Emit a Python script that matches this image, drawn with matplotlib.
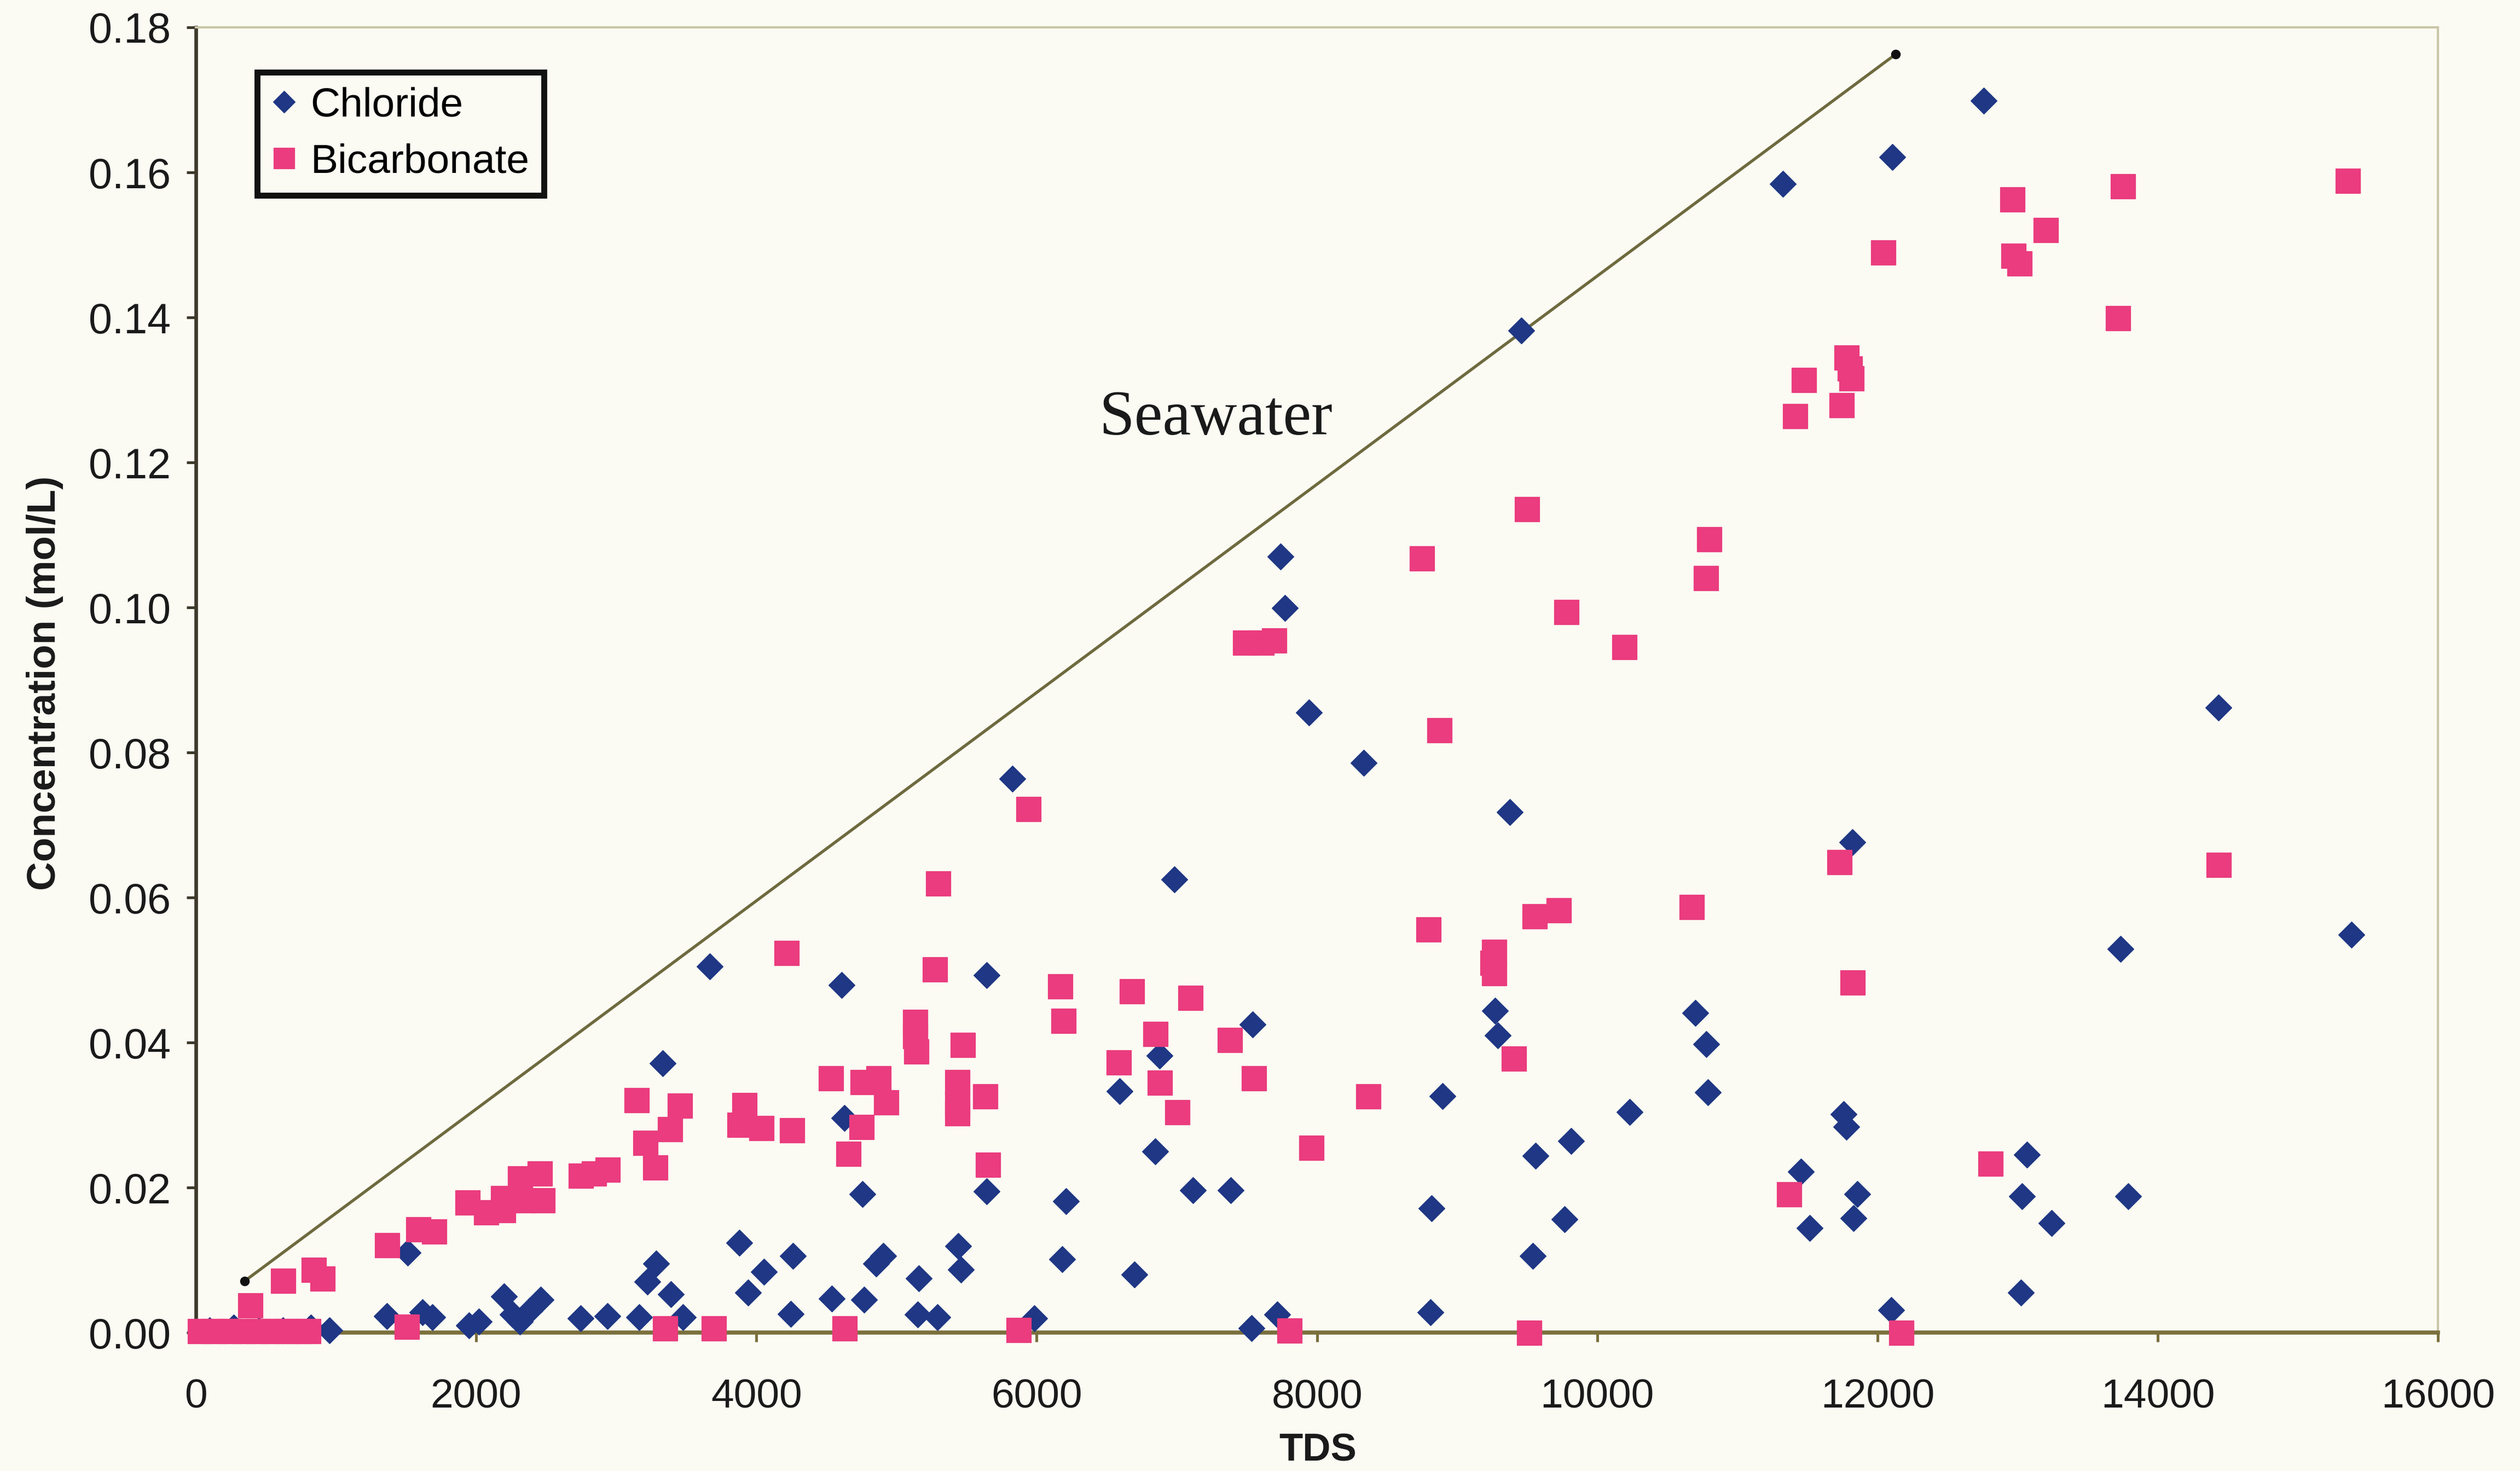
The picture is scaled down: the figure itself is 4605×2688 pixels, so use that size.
import matplotlib
matplotlib.use("Agg")
import matplotlib.pyplot as plt
from matplotlib.ticker import MultipleLocator, FormatStrFormatter

# --- data -----------------------------------------------------------------
chloride_tds = [
    12759, 12105, 11324, 9457, 7739, 7773, 7945, 8335, 5825, 9378,
    14432, 15383, 13733, 11819, 6982, 3669, 4610, 5642, 9272, 9290,
    10700, 10778, 10790, 7542, 6879, 6592, 8897, 10230, 11759, 11776,
    3330, 4628, 6845, 9559, 9812, 13066, 11455, 5642, 6208, 7114,
    7385, 8818, 11854, 13031, 13790, 4758, 13240, 11515, 11829, 9768,
    9541, 3877, 4261, 4052, 3939, 4905, 4854, 5159, 5442, 5459,
    6182, 6696, 3286, 3224, 3390, 3477, 1513, 1362, 1617, 1687,
    1949, 2018, 2201, 2261, 2314, 2384, 2462, 2745, 2938, 3164,
    4244, 4540, 4767, 5150, 5290, 5982, 7532, 7715, 8810, 12099,
    13022, 955, 270, 820, 100, 450, 620,
]
chloride_conc = [
    0.1699, 0.1621, 0.1584, 0.1382, 0.1070, 0.0999, 0.0855, 0.0786, 0.0764, 0.0718,
    0.0862, 0.0549, 0.0529, 0.0676, 0.0625, 0.0505, 0.0479, 0.0493, 0.0444, 0.0410,
    0.0441, 0.0398, 0.0331, 0.0425, 0.0382, 0.0333, 0.0326, 0.0304, 0.0301, 0.0284,
    0.0371, 0.0296, 0.0250, 0.0244, 0.0264, 0.0245, 0.0222, 0.0195, 0.0181, 0.0196,
    0.0196, 0.0171, 0.0191, 0.0188, 0.0188, 0.0191, 0.0151, 0.0144, 0.0158, 0.0156,
    0.0106, 0.0124, 0.0106, 0.0084, 0.0055, 0.0106, 0.0095, 0.0075, 0.0119, 0.0087,
    0.0101, 0.0080, 0.0095, 0.0070, 0.0053, 0.0021, 0.0110, 0.0023, 0.0028, 0.0021,
    0.0010, 0.0015, 0.0050, 0.0025, 0.0015, 0.0030, 0.0045, 0.0020, 0.0023, 0.0021,
    0.0026, 0.0047, 0.0045, 0.0025, 0.0021, 0.0020, 0.0006, 0.0025, 0.0028, 0.0031,
    0.0055, 0.0003, 0.0007, 0.0007, 0.0003, 0.0003, 0.0003,
]

bicarbonate_tds = [
    15356, 13748, 12961, 13197, 12038, 12970, 13010, 13713, 11776, 11800,
    11811, 11472, 11742, 11411, 9496, 10799, 10776, 8747, 9779, 10191,
    7487, 7602, 7694, 8873, 5939, 5297, 11727, 14432, 10673, 9722,
    9550, 8793, 9263, 9252, 9263, 11820, 4215, 5271, 6165, 6679,
    7097, 6191, 6845, 7376, 5471, 5133, 5133, 5141, 6584, 9403,
    4531, 4758, 4871, 4923, 5433, 5433, 5433, 5633, 6879, 7549,
    8365, 7001, 4749, 4654, 3146, 3451, 3381, 3207, 3277, 2314,
    2453, 2745, 2840, 2938, 3913, 3877, 4034, 4252, 5650, 7959,
    12804, 11367, 1939, 2070, 2191, 2191, 2331, 2471, 1364, 1586,
    1700, 623, 841, 903, 389, 30, 130, 240, 340, 440,
    540, 640, 730, 800, 1504, 3347, 3695, 4627, 5868, 7803,
    9514, 12168,
]
bicarbonate_conc = [
    0.1589, 0.1581, 0.1563, 0.1521, 0.1490, 0.1485, 0.1475, 0.1399, 0.1345, 0.1330,
    0.1316, 0.1314, 0.1279, 0.1264, 0.1136, 0.1094, 0.1041, 0.1068, 0.0994, 0.0946,
    0.0952, 0.0952, 0.0955, 0.0831, 0.0722, 0.0620, 0.0649, 0.0645, 0.0587, 0.0583,
    0.0574, 0.0556, 0.0525, 0.0510, 0.0496, 0.0483, 0.0524, 0.0501, 0.0478, 0.0471,
    0.0462, 0.0430, 0.0412, 0.0404, 0.0397, 0.0429, 0.0409, 0.0388, 0.0373, 0.0378,
    0.0351, 0.0346, 0.0351, 0.0318, 0.0346, 0.0316, 0.0303, 0.0326, 0.0345, 0.0351,
    0.0326, 0.0304, 0.0284, 0.0247, 0.0321, 0.0313, 0.0281, 0.0262, 0.0228, 0.0213,
    0.0220, 0.0217, 0.0220, 0.0225, 0.0314, 0.0287, 0.0282, 0.0279, 0.0232, 0.0255,
    0.0233, 0.0191, 0.0180, 0.0166, 0.0169, 0.0186, 0.0183, 0.0183, 0.0121, 0.0143,
    0.0140, 0.0072, 0.0087, 0.0075, 0.0038, 0.0002, 0.0002, 0.0002, 0.0002, 0.0002,
    0.0002, 0.0002, 0.0002, 0.0002, 0.0008, 0.0006, 0.0006, 0.0006, 0.0004, 0.0003,
    0.0000, 0.0000,
]

# seawater dilution line (end points)
seawater_tds = [348, 12130]
seawater_conc = [0.0071, 0.1763]

x_ticks = [0, 2000, 4000, 6000, 8000, 10000, 12000, 14000, 16000]

# --- styling --------------------------------------------------------------
paper = "#fbfbf3"
blue = "#1f3784"
pink = "#ea3c7e"
axis_dark = "#3d3a2c"
axis_olive = "#7a6f3c"

plt.rcParams["font.family"] = ["Liberation Sans", "DejaVu Sans"]

fig = plt.figure(figsize=(15.35, 8.96), dpi=300, facecolor=paper)
ax = fig.add_axes([0.0777, 0.0941, 0.8898, 0.8873], facecolor=paper)

ax.plot(seawater_tds, seawater_conc, color="#6e6a3e", lw=1.3, zorder=2,
        marker="o", ms=3.2, mfc="#111111", mec="#111111", clip_on=False)

ax.plot(chloride_tds, chloride_conc, ls="none", marker="D", ms=8.0,
        color=blue, mec=blue, mew=0.3, label="Chloride", zorder=3, clip_on=False)
ax.plot(bicarbonate_tds, bicarbonate_conc, ls="none", marker="s", ms=10.8,
        color=pink, mec=pink, mew=0.3, label="Bicarbonate", zorder=4, clip_on=False)

ax.text(7280, 0.126, "Seawater", fontsize=28, ha="center", va="center",
        family=["Liberation Serif", "DejaVu Serif"], color="#1a1a1a")

ax.set_xlim(0, 16000)
ax.set_ylim(0, 0.18)
ax.set_xticks(x_ticks)
ax.yaxis.set_major_locator(MultipleLocator(0.02))
ax.yaxis.set_major_formatter(FormatStrFormatter("%.2f"))

for side in ("top", "right"):
    ax.spines[side].set_color("#c9c6a8")
    ax.spines[side].set_linewidth(1.0)
ax.spines["left"].set_color(axis_dark)
ax.spines["left"].set_linewidth(1.6)
ax.spines["bottom"].set_color(axis_olive)
ax.spines["bottom"].set_linewidth(1.8)

ax.tick_params(axis="y", direction="out", length=4, width=1.2, color=axis_dark,
               labelsize=18.5, pad=7, labelcolor="#1a1a1a")
ax.tick_params(axis="x", direction="out", length=4, width=1.2, color=axis_olive,
               labelsize=18, pad=16, labelcolor="#1a1a1a")

ax.set_xlabel("TDS", fontsize=17, fontweight="bold", color="#1a1a1a")
ax.set_ylabel("Concentration (mol/L)", fontsize=17.5, fontweight="bold", color="#1a1a1a")
ax.xaxis.set_label_coords(0.5004, -0.077)
ax.yaxis.set_label_coords(-0.059, 0.4975)

leg = ax.legend(loc="upper left", bbox_to_anchor=(0.0274, 0.9655), fontsize=18,
                frameon=True, fancybox=False, framealpha=1, facecolor=paper,
                edgecolor="#111111", handlelength=0.6, handletextpad=0.35,
                borderpad=0.35, labelspacing=0.45, borderaxespad=0,
                markerscale=0.85)
leg.get_frame().set_linewidth(2.6)

fig.savefig("out.png", dpi=300, facecolor=paper)
